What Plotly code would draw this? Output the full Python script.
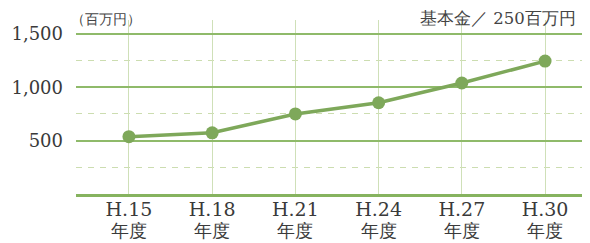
import plotly.graph_objects as go

categories = ["H.15", "H.18", "H.21", "H.24", "H.27", "H.30"]
tick_era = ["年度"] * 6
values = [537, 573, 750, 855, 1040, 1245]
y_ticks = [500, 1000, 1500]
y_tick_labels = ["500", "1,000", "1,500"]
y_minor = [250, 750, 1250]

green = "#7EA85A"
serif = "DejaVu Serif, Liberation Serif, serif"

ticktext = [f"<span style='font-size:19px'>{c}</span><br><span style='font-size:17.5px'>{e}</span>"
            for c, e in zip(categories, tick_era)]

fig = go.Figure()
fig.add_trace(go.Scatter(
    x=list(range(len(categories))), y=values, mode="lines+markers",
    line=dict(color=green, width=3.5),
    marker=dict(color=green, size=13),
    showlegend=False, hoverinfo="skip",
))

# page body has an 8px margin: figure is shrunk so the plot area lands where the reference has it
fig.update_layout(
    width=582, height=235,
    margin=dict(l=68, r=0, t=12, b=49, autoexpand=False),
    paper_bgcolor="white", plot_bgcolor="white",
    font=dict(family=serif, color="#3a3a3a"),
    xaxis=dict(
        range=[-0.636, 5.54], tickvals=list(range(len(categories))), ticktext=ticktext,
        showgrid=True, gridcolor="#CFE0B8", gridwidth=1.2,
        showline=True, linecolor="#86B35F", linewidth=3,
        zeroline=False, ticks="", tickfont=dict(size=16, family=serif, color="#3a3a3a"),
        automargin=False, fixedrange=True,
    ),
    yaxis=dict(
        range=[0, 1630], tickvals=y_ticks, ticktext=y_tick_labels,
        showgrid=True, gridcolor="#8FBA6A", gridwidth=1.5,
        zeroline=False, showline=False, ticks="",
        tickfont=dict(size=18, family=serif, color="#3a3a3a"),
        ticklabelstandoff=12, automargin=False,
        minor=dict(tickvals=y_minor, showgrid=True, gridcolor="#CCDDB0", griddash="6px,6px", gridwidth=1.3),
        fixedrange=True,
    ),
    annotations=[
        dict(text="（百万円）", xref="paper", yref="paper", x=-0.014, y=1.006,
             xanchor="left", yanchor="middle", showarrow=False,
             font=dict(size=13.5, color="#444", family=serif)),
        dict(text="基本金／ 250百万円", xref="paper", yref="paper", x=0.977, y=1.006,
             xanchor="right", yanchor="middle", showarrow=False,
             font=dict(size=16.5, color="#444", family=serif)),
    ],
)

fig.write_html("out.html")
